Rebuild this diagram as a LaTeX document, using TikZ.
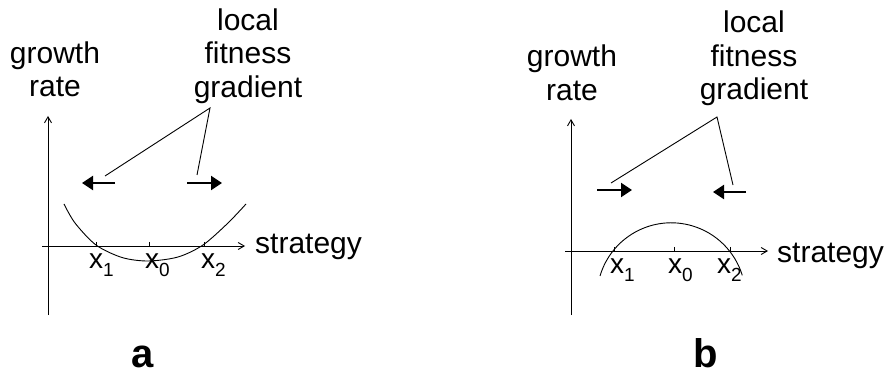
\documentclass[tikz,border=0pt]{standalone}
\usepackage{fontspec}
\setmainfont{Liberation Sans}
\usetikzlibrary{arrows.meta}

\newcommand{\subidx}[1]{\raisebox{-8pt}{\fontsize{19}{19}\selectfont #1}}

\begin{document}
\begin{tikzpicture}[
  x=1pt,y=-1pt,
  >={Straight Barb[length=6pt,width=7pt]},
  axisline/.style={line width=0.9pt,->},
  tickmark/.style={line width=0.8pt},
  fitcurve/.style={line width=0.9pt},
  grad/.style={line width=2pt,-{Triangle[length=11pt,width=14pt]}},
  pointer/.style={line width=0.9pt},
  caption/.style={font=\fontsize{30}{33.5}\selectfont,align=center,inner sep=0pt},
  xlab/.style={font=\fontsize{28}{28}\selectfont,inner sep=0pt,anchor=base west},
  panel/.style={font=\fontsize{40}{40}\selectfont\bfseries,inner sep=0pt,anchor=base}
]
  \useasboundingbox (0,0) rectangle (889,374);

  % panel a
  \coordinate (ya0) at (48,315);
  \coordinate (ya1) at (48,116);
  \coordinate (xa0) at (42,246);
  \coordinate (xa1) at (245,246);
  \draw[axisline] (ya0) -- (ya1);
  \draw[axisline] (xa0) -- (xa1);
  \foreach \t in {96,149,204}
    \draw[tickmark] (\t,242) -- (\t,247);
  \draw[fitcurve] plot[smooth] coordinates {(64,204) (75,223) (96,245) (122,257.5)
    (148,261) (178,257) (203,245) (228,223) (246,204)};
  \node[xlab] (a1) at (89,269) {x\subidx{1}};
  \node[xlab] (a0) at (145,269) {x\subidx{0}};
  \node[xlab] (a2) at (201,269) {x\subidx{2}};
  \node[caption,anchor=north] (rateA) at (55,41.5) {growth\\rate};
  \node[caption,anchor=north] (gradA) at (248,8.5) {local\\fitness\\gradient};
  \node[caption,anchor=base west] (stratA) at (255,254) {strategy};
  \coordinate (gaL0) at (115,183);
  \coordinate (gaL1) at (82,183);
  \coordinate (gaR0) at (187,183);
  \coordinate (gaR1) at (222,183);
  \draw[grad] (gaL0) -- (gaL1);
  \draw[grad] (gaR0) -- (gaR1);
  \coordinate (apexA) at (210,108);
  \coordinate (pa1) at (105,176);
  \coordinate (pa2) at (197,175);
  \draw[pointer] (pa1) -- (apexA) -- (pa2);
  \node[panel] (la) at (143,367) {a};

  % panel b
  \coordinate (yb0) at (571,315);
  \coordinate (yb1) at (571,119);
  \coordinate (xb0) at (565,251);
  \coordinate (xb1) at (768,251);
  \draw[axisline] (yb0) -- (yb1);
  \draw[axisline] (xb0) -- (xb1);
  \foreach \t in {614,674,730}
    \draw[tickmark] (\t,247) -- (\t,252);
  \draw[fitcurve] (600,276) arc[start angle=196.5,end angle=343,radius=74.3];
  \node[xlab] (b1) at (610,273) {x\subidx{1}};
  \node[xlab] (b0) at (668,273) {x\subidx{0}};
  \node[xlab] (b2) at (717,273) {x\subidx{2}};
  \node[caption,anchor=north] (rateB) at (572,45) {growth\\rate};
  \node[caption,anchor=north] (gradB) at (754,11) {local\\fitness\\gradient};
  \node[caption,anchor=base west] (stratB) at (777,262) {strategy};
  \coordinate (gbL0) at (597,190);
  \coordinate (gbL1) at (632,190);
  \coordinate (gbR0) at (746,192);
  \coordinate (gbR1) at (713,192);
  \draw[grad] (gbL0) -- (gbL1);
  \draw[grad] (gbR0) -- (gbR1);
  \coordinate (apexB) at (717,117);
  \coordinate (pb1) at (611,183);
  \coordinate (pb2) at (733,185);
  \draw[pointer] (pb1) -- (apexB) -- (pb2);
  \node[panel] (lb) at (706,367) {b};
\end{tikzpicture}
\end{document}
